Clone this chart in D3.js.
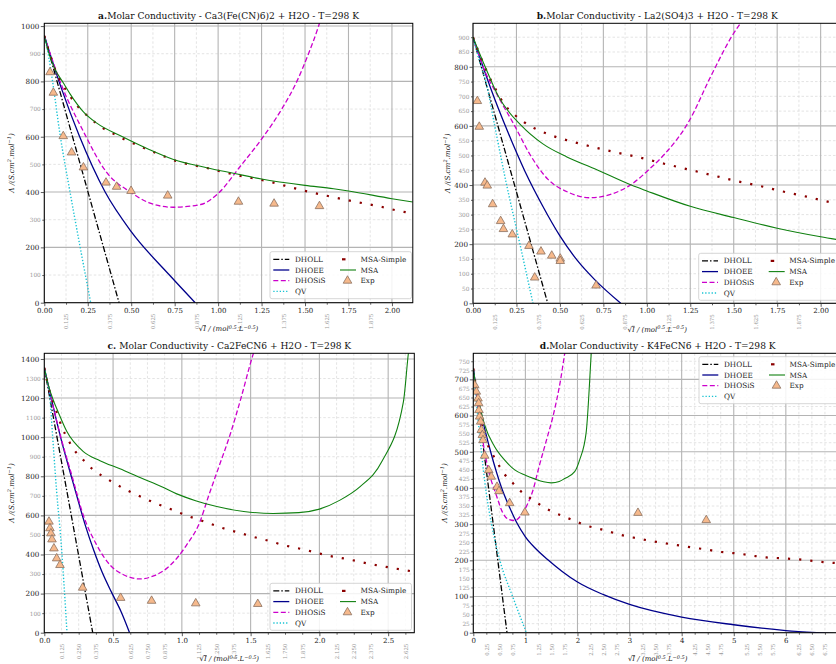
<!DOCTYPE html>
<html>
<head>
<meta charset="utf-8">
<script src="https://cdn.jsdelivr.net/npm/d3@7"></script>
<style>
  body { margin: 0; background: #fff; }
  svg { display: block; font-family: "DejaVu Serif", serif; }
</style>
</head>
<body>
<div id="main"></div>
<script>
// ---------- panel a : Ca3(Fe(CN)6)2 ----------
const aDHOLL  = [[0,965],[0.215,482],[0.43,0]];
const aDHOEE  = [[0,965],[0.1,772],[0.2,605],[0.35,400],[0.5,257],[0.72,100],[0.868,0]];
const aDHOSiS = [[0,965],[0.1,785],[0.22,625],[0.36,470],[0.5,398],[0.6,362],[0.74,345],[0.9,355],[1.0,395],[1.13,495],[1.26,600],[1.366,700],[1.453,800],[1.52,900],[1.578,1000],[1.6,1045]];
const aQV     = [[0,965],[0.025,890],[0.05,790],[0.09,610],[0.148,400],[0.205,205],[0.267,0]];
const aMSAS   = [[0,965],[0.061,845],[0.144,751],[0.186,714],[0.238,681],[0.282,657],[0.34,630],[0.413,606],[0.468,588],[0.535,570],[0.6,552],[0.66,537],[0.727,519],[0.935,487],[1.1,462],[1.3,437],[1.45,412],[1.6,390],[1.789,365],[1.95,345],[2.038,332],[2.12,323]];
const aMSA    = [[0,965],[0.03,895],[0.061,845],[0.109,795],[0.148,755],[0.225,690],[0.3,650],[0.45,600],[0.6,555],[0.743,518],[0.935,488],[1.088,468],[1.25,447],[1.5,424],[1.664,412],[1.75,404],[2.0,376],[2.12,364]];
const aExpX   = [0.033,0.052,0.109,0.157,0.225,0.355,0.416,0.499,0.710,1.117,1.322,1.583];
const aExpY   = [833,759,602,543,489,434,419,404,387,365,358,349];
const aXMajor = [0,0.25,0.5,0.75,1,1.25,1.5,1.75,2];
const aXMinor = [0.125,0.375,0.625,0.875,1.125,1.375,1.625,1.875];
const aYMajor = [0,200,400,600,800,1000];
const aYMinor = [100,300,500,700,900];

// ---------- panel b : La2(SO4)3 ----------
const bDHOLL  = [[0,900],[0.215,450],[0.43,0]];
const bDHOEE  = [[0,900],[0.1,730],[0.2,580],[0.3,445],[0.4,330],[0.5,228],[0.6,145],[0.7,80],[0.85,0]];
const bDHOSiS = [[0,900],[0.058,800],[0.144,700],[0.24,600],[0.326,505],[0.43,420],[0.55,375],[0.67,357],[0.8,370],[0.9,398],[1.026,460],[1.103,505],[1.237,610],[1.37,770],[1.486,900],[1.56,965]];
const bQV     = [[0,900],[0.04,815],[0.08,735],[0.125,600],[0.19,410],[0.27,200],[0.345,0]];
const bMSAS   = [[0,900],[0.06,810],[0.12,735],[0.184,670],[0.24,637],[0.29,614],[0.353,592],[0.42,575],[0.48,562],[0.55,550],[0.62,539],[0.825,510],[0.96,493],[1.1,472],[1.237,453],[1.371,434],[1.505,415],[1.65,397],[1.784,378],[1.918,361],[2.06,341],[2.15,330]];
const bMSA    = [[0,900],[0.07,800],[0.146,700],[0.28,600],[0.4,540],[0.54,495],[0.7,455],[0.91,400],[1.0,380],[1.25,328],[1.5,290],[1.75,254],[2.0,225],[2.15,210]];
const bExpX   = [0.025,0.036,0.069,0.082,0.113,0.159,0.175,0.226,0.322,0.355,0.391,0.453,0.502,0.502,0.708];
const bExpY   = [684,597,408,398,335,278,251,233,194,87,175,161,151,143,60];
const bXMajor = [0,0.25,0.5,0.75,1,1.25,1.5,1.75,2];
const bXMinor = [0.125,0.375,0.625,0.875,1.125,1.375,1.625,1.875];
const bYMajor = [0,200,400,600,800];
const bYMinor = [50,100,150,250,300,350,450,500,550,650,700,750,850,900];

// ---------- panel c : Ca2FeCN6 ----------
const cDHOLL  = [[0,1355],[0.176,678],[0.352,0]];
const cDHOEE  = [[0,1355],[0.06,1170],[0.12,995],[0.2,790],[0.25,665],[0.3,545],[0.36,420],[0.42,310],[0.49,205],[0.56,105],[0.62,0]];
const cDHOSiS = [[0,1355],[0.12,1000],[0.2,805],[0.284,600],[0.38,450],[0.478,346],[0.58,295],[0.696,275],[0.8,292],[0.89,329],[1.035,449],[1.132,568],[1.19,690],[1.27,850],[1.35,1011],[1.43,1200],[1.513,1412],[1.53,1450]];
const cQV     = [[0,1355],[0.02,1290],[0.041,1200],[0.061,1000],[0.09,720],[0.12,480],[0.143,250],[0.165,0]];
const cMSAS   = [[0,1355],[0.04,1230],[0.08,1150],[0.126,1055],[0.175,985],[0.218,934],[0.272,892],[0.35,837],[0.412,806],[0.482,776],[0.57,740],[0.647,713],[0.72,690],[0.805,663],[0.89,640],[0.963,619],[1.06,593],[1.137,575],[1.217,555],[1.302,534],[1.387,517],[1.472,500],[1.557,483],[1.654,466],[1.727,450],[1.823,435],[1.908,422],[1.993,406],[2.078,392],[2.175,380],[2.26,368],[2.345,355],[2.434,343],[2.514,333],[2.612,321],[2.7,311]];
const cMSA    = [[0,1355],[0.03,1265],[0.065,1190],[0.1,1130],[0.163,1030],[0.284,926],[0.405,880],[0.55,838],[0.7,792],[0.85,748],[0.963,710],[1.1,675],[1.254,645],[1.45,620],[1.665,610],[1.85,614],[2.0,632],[2.15,678],[2.296,747],[2.454,875],[2.611,1182],[2.647,1429],[2.66,1500]];
const cExpX   = [0.034,0.041,0.048,0.056,0.07,0.09,0.114,0.279,0.555,0.78,1.101,1.552];
const cExpY   = [568,534,508,477,431,380,346,230,178,163,150,147];
const cXMajor = [0,0.5,1,1.5,2,2.5];
const cXMinor = [0.125,0.25,0.375,0.625,0.75,0.875,1.125,1.25,1.375,1.625,1.75,1.875,2.125,2.25,2.375,2.625];
const cYMajor = [0,200,400,600,800,1000,1200,1400];
const cYMinor = [100,300,500,700,900,1100,1300];

// ---------- panel d : K4FeCN6 ----------
const dDHOLL  = [[0,730],[0.32,370],[0.647,0]];
const dDHOEE  = [[0,730],[0.05,680],[0.16,600],[0.333,500],[0.544,400],[0.7,345],[0.83,305],[1.0,265],[1.2,232],[1.42,203],[1.7,170],[2.0,140],[2.5,105],[3.0,78],[4.0,43],[5.0,22],[6.0,6],[6.6,0],[7.1,-4]];
const dDHOSiS = [[0,730],[0.1,615],[0.218,500],[0.282,454],[0.442,380],[0.57,330],[0.68,313],[0.795,310],[0.921,325],[1.05,358],[1.133,388],[1.274,465],[1.42,540],[1.53,598],[1.677,700],[1.755,772],[1.79,805]];
const dQV     = [[0,730],[0.058,640],[0.122,546],[0.25,385],[0.35,300],[0.51,200],[0.755,100],[1.02,0]];
const dMSAS   = [[0,730],[0.06,670],[0.12,610],[0.192,555],[0.25,528],[0.359,496],[0.461,470],[0.589,440],[0.762,413],[0.91,391],[1.1,371],[1.319,350],[1.497,336],[1.722,322],[1.946,309],[2.168,296],[2.393,288],[2.618,279],[2.841,270],[3.067,263],[3.32,256],[3.513,251],[3.77,245],[4.011,240],[4.217,235],[4.472,230],[4.697,224],[4.921,221],[5.177,217],[5.401,212],[5.624,208],[5.881,206],[6.104,204],[6.361,201],[6.584,197],[6.82,194],[7.1,191]];
const dMSA    = [[0,730],[0.05,680],[0.122,629],[0.218,574],[0.41,514],[0.603,477],[0.795,450],[1.0,435],[1.178,425],[1.35,417],[1.497,414],[1.65,418],[1.754,426],[1.946,445],[2.04,477],[2.168,555],[2.264,772],[2.28,810]];
const dExpX   = [0.027,0.058,0.09,0.103,0.109,0.122,0.141,0.154,0.173,0.186,0.218,0.296,0.345,0.455,0.493,0.698,0.99,3.161,4.472];
const dExpY   = [684,666,647,634,615,597,583,560,546,532,489,449,431,403,391,358,332,331,311];
const dXMajor = [0,1,2,3,4,5,6];
const dXMinor = [0.25,0.5,0.75,1.25,1.5,1.75,2.25,2.5,2.75,3.25,3.5,3.75,4.25,4.5,4.75,5.25,5.5,5.75,6.25,6.5,6.75];
const dYMajor = [0,100,200,300,400,500,600,700];
const dYMinor = [25,50,75,125,150,175,225,250,275,325,350,375,425,450,475,525,550,575,625,650,675,725,750];

// series styles (legend order)
const styles = {
  DHOLL:  { color: '#000000', width: 1.3, dash: '6,2,1.5,2' },
  DHOEE:  { color: '#00008b', width: 1.3, dash: null },
  DHOSiS: { color: '#cc00cc', width: 1.3, dash: '5,2.5' },
  QV:     { color: '#17c3d3', width: 1.4, dash: '1.3,1.9' },
  'MSA-Simple': { color: '#8b0000', width: 2.2, dash: '2.2,9' },
  MSA:    { color: '#108010', width: 1.1, dash: null }
};

const panels = [
  { id: 'a', letter: 'a.', title: 'Molar Conductivity - Ca3(Fe(CN)6)2 + H2O - T=298 K',
    left: 44.3, top: 23.3, w: 368.5, h: 279.4, xMax: 2.12, yMax: 1010,
    xMaj: aXMajor, xMin: aXMinor, yMaj: aYMajor, yMin: aYMinor,
    xFmt: d3.format('.2f'), xMinFmt: d3.format('.3f'), ylabX: 14,
    series: { DHOLL: aDHOLL, DHOEE: aDHOEE, DHOSiS: aDHOSiS, QV: aQV, 'MSA-Simple': aMSAS, MSA: aMSA },
    expX: aExpX, expY: aExpY, legendTop: 251.7 },
  { id: 'b', letter: 'b.', title: 'Molar Conductivity - La2(SO4)3 + H2O - T=298 K',
    left: 473, top: 23.3, w: 368.5, h: 280, xMax: 2.12, yMax: 947,
    xMaj: bXMajor, xMin: bXMinor, yMaj: bYMajor, yMin: bYMinor,
    xFmt: d3.format('.2f'), xMinFmt: d3.format('.3f'), ylabX: 450,
    series: { DHOLL: bDHOLL, DHOEE: bDHOEE, DHOSiS: bDHOSiS, QV: bQV, 'MSA-Simple': bMSAS, MSA: bMSA },
    expX: bExpX, expY: bExpY, legendTop: 253.3 },
  { id: 'c', letter: 'c. ', title: 'Molar Conductivity - Ca2FeCN6 + H2O - T=298 K',
    left: 44.3, top: 353.3, w: 370, h: 279.4, xMax: 2.69, yMax: 1429,
    xMaj: cXMajor, xMin: cXMinor, yMaj: cYMajor, yMin: cYMinor,
    xFmt: d3.format('.1f'), xMinFmt: d3.format('.3f'), ylabX: 14,
    series: { DHOLL: cDHOLL, DHOEE: cDHOEE, DHOSiS: cDHOSiS, QV: cQV, 'MSA-Simple': cMSAS, MSA: cMSA },
    expX: cExpX, expY: cExpY, legendTop: 583.3 },
  { id: 'd', letter: 'd.', title: 'Molar Conductivity - K4FeCN6 + H2O - T=298 K',
    left: 473.3, top: 353.3, w: 368.8, h: 279.4, xMax: 7.08, yMax: 772,
    xMaj: dXMajor, xMin: dXMinor, yMaj: dYMajor, yMin: dYMinor,
    xFmt: d3.format('d'), xMinFmt: d3.format('.2f'), ylabX: 447,
    series: { DHOLL: dDHOLL, DHOEE: dDHOEE, DHOSiS: dDHOSiS, QV: dQV, 'MSA-Simple': dMSAS, MSA: dMSA },
    expX: dExpX, expY: dExpY, legendTop: 356.7 }
];

const svg = d3.select('#main').append('svg')
  .attr('width', 836).attr('height', 664);

function drawPanel(p) {
  const x = d3.scaleLinear().domain([0, p.xMax]).range([p.left, p.left + p.w]);
  const y = d3.scaleLinear().domain([0, p.yMax]).range([p.top + p.h, p.top]);
  const g = svg.append('g');

  g.append('clipPath').attr('id', 'clip-' + p.id)
    .append('rect').attr('x', p.left).attr('y', p.top).attr('width', p.w).attr('height', p.h);

  // grid: minor dashed, major solid
  const grid = g.append('g');
  grid.selectAll('line.vmin').data(p.xMin).join('line').attr('class', 'vmin')
    .attr('x1', d => x(d)).attr('x2', d => x(d)).attr('y1', p.top).attr('y2', p.top + p.h);
  grid.selectAll('line.hmin').data(p.yMin).join('line').attr('class', 'hmin')
    .attr('x1', p.left).attr('x2', p.left + p.w).attr('y1', d => y(d)).attr('y2', d => y(d));
  grid.selectAll('line.vmin, line.hmin')
    .attr('stroke', '#d9d9d9').attr('stroke-width', 0.7).attr('stroke-dasharray', '2.5,2');
  grid.selectAll('line.vmaj').data(p.xMaj).join('line').attr('class', 'vmaj')
    .attr('x1', d => x(d)).attr('x2', d => x(d)).attr('y1', p.top).attr('y2', p.top + p.h);
  grid.selectAll('line.hmaj').data(p.yMaj).join('line').attr('class', 'hmaj')
    .attr('x1', p.left).attr('x2', p.left + p.w).attr('y1', d => y(d)).attr('y2', d => y(d));
  grid.selectAll('line.vmaj, line.hmaj')
    .attr('stroke', '#b4b4b4').attr('stroke-width', 1.1);

  // curves
  const line = d3.line().x(d => x(d[0])).y(d => y(d[1])).curve(d3.curveMonotoneX);
  const curves = g.append('g').attr('clip-path', `url(#clip-${p.id})`);
  Object.entries(p.series).forEach(([name, pts]) => {
    const s = styles[name];
    curves.append('path').datum(pts)
      .attr('d', line)
      .attr('fill', 'none')
      .attr('stroke', s.color)
      .attr('stroke-width', s.width)
      .attr('stroke-dasharray', s.dash);
  });

  // experimental points
  const tri = d3.symbol(d3.symbolTriangle, 32);
  curves.append('g').selectAll('path')
    .data(p.expX.map((v, i) => [v, p.expY[i]]))
    .join('path')
      .attr('d', tri)
      .attr('transform', d => `translate(${x(d[0])},${y(d[1])})`)
      .attr('fill', '#f6b98c')
      .attr('stroke', '#8a7060')
      .attr('stroke-width', 0.8);

  // frame
  g.append('rect').attr('x', p.left).attr('y', p.top).attr('width', p.w).attr('height', p.h)
    .attr('fill', 'none').attr('stroke', '#000').attr('stroke-width', 1);

  // axes
  const bottom = p.top + p.h;
  const xa = g.append('g').attr('transform', `translate(0,${bottom})`)
    .call(d3.axisBottom(x).tickValues(p.xMaj).tickFormat(p.xFmt).tickSize(3.5).tickPadding(1.5));
  xa.selectAll('text').attr('font-size', 7).attr('font-family', 'DejaVu Serif').attr('fill', '#222');

  const xm = g.append('g').attr('transform', `translate(0,${bottom})`)
    .call(d3.axisBottom(x).tickValues(p.xMin).tickFormat(p.xMinFmt).tickSize(2));
  xm.selectAll('text')
    .attr('font-size', 5.4).attr('font-family', 'DejaVu Serif').attr('fill', '#999')
    .attr('x', -11).attr('y', 0).attr('dy', '0.35em')
    .attr('text-anchor', 'end').attr('transform', 'rotate(-90)');

  const ya = g.append('g').attr('transform', `translate(${p.left},0)`)
    .call(d3.axisLeft(y).tickValues(p.yMaj).tickFormat(d3.format('d')).tickSize(3.5).tickPadding(1.5));
  ya.selectAll('text').attr('font-size', 7.2).attr('font-family', 'DejaVu Serif').attr('fill', '#222');

  const ym = g.append('g').attr('transform', `translate(${p.left},0)`)
    .call(d3.axisLeft(y).tickValues(p.yMin).tickFormat(d3.format('d')).tickSize(2).tickPadding(1.5));
  ym.selectAll('text').attr('font-size', 5.8).attr('font-family', 'DejaVu Serif').attr('fill', '#999');

  [xa, xm, ya, ym].forEach(a => {
    a.select('.domain').remove();
    a.selectAll('line').attr('stroke', '#333').attr('stroke-width', 0.8);
  });

  // title
  const cx = p.left + p.w / 2;
  const t = g.append('text').attr('x', cx).attr('y', p.top - 4.5)
    .attr('text-anchor', 'middle').attr('font-size', 9.1).attr('fill', '#111');
  t.append('tspan').attr('font-weight', 'bold').text(p.letter);
  t.append('tspan').text(p.title);

  // y label
  const yl = g.append('text')
    .attr('transform', `translate(${p.ylabX},${p.top + p.h / 2}) rotate(-90)`)
    .attr('text-anchor', 'middle').attr('font-size', 7.2).attr('font-style', 'italic').attr('fill', '#222');
  yl.append('tspan').text('Λ /(S.cm');
  yl.append('tspan').attr('font-size', 5).attr('dy', -3).text('2');
  yl.append('tspan').attr('dy', 3).text('.mol');
  yl.append('tspan').attr('font-size', 5).attr('dy', -3).text('−1');
  yl.append('tspan').attr('dy', 3).text(')');

  // x label
  const xl = g.append('text').attr('x', cx).attr('y', bottom + 28.6)
    .attr('text-anchor', 'middle').attr('font-size', 7).attr('fill', '#222');
  xl.append('tspan').text('√');
  xl.append('tspan').attr('font-style', 'italic').attr('text-decoration', 'overline').text('I');
  xl.append('tspan').attr('font-style', 'italic').text(' / (mol');
  xl.append('tspan').attr('font-style', 'italic').attr('font-size', 5).attr('dy', -2.8).text('0.5');
  xl.append('tspan').attr('font-style', 'italic').attr('dy', 2.8).text('.L');
  xl.append('tspan').attr('font-style', 'italic').attr('font-size', 5).attr('dy', -2.8).text('−0.5');
  xl.append('tspan').attr('font-style', 'italic').attr('dy', 2.8).text(')');

  // legend
  const lx = p.left + 225.7, ly = p.legendTop;
  const lg = g.append('g').attr('transform', `translate(${lx},${ly})`);
  lg.append('rect').attr('width', 141.5).attr('height', 47).attr('rx', 2)
    .attr('fill', 'rgba(255,255,255,0.85)').attr('stroke', '#cccccc').attr('stroke-width', 0.8);
  const col1 = ['DHOLL', 'DHOEE', 'DHOSiS', 'QV'];
  const col2 = ['MSA-Simple', 'MSA', 'Exp'];
  col1.forEach((n, i) => {
    const yy = 7.6 + i * 10.7, s = styles[n];
    lg.append('line').attr('x1', 3.3).attr('x2', 19.3).attr('y1', yy).attr('y2', yy)
      .attr('stroke', s.color).attr('stroke-width', s.width).attr('stroke-dasharray', s.dash);
    lg.append('text').attr('x', 25).attr('y', yy).attr('dy', '0.35em')
      .attr('font-size', 7.3).attr('fill', '#222').text(n);
  });
  col2.forEach((n, i) => {
    const yy = 7.6 + i * 10.7;
    if (n === 'Exp') {
      lg.append('path').attr('d', tri).attr('transform', `translate(77.5,${yy})`)
        .attr('fill', '#f6b98c').attr('stroke', '#8a7060').attr('stroke-width', 0.8);
    } else {
      const s = styles[n];
      lg.append('line').attr('x1', 70).attr('x2', 86).attr('y1', yy).attr('y2', yy)
        .attr('stroke', s.color).attr('stroke-width', s.width)
        .attr('stroke-dasharray', n === 'MSA-Simple' ? '3.5,12' : s.dash)
        .attr('stroke-dashoffset', n === 'MSA-Simple' ? -2 : 0);
    }
    lg.append('text').attr('x', 90.5).attr('y', yy).attr('dy', '0.35em')
      .attr('font-size', 7.3).attr('fill', '#222').text(n);
  });
}

panels.forEach(drawPanel);
</script>
</body>
</html>
